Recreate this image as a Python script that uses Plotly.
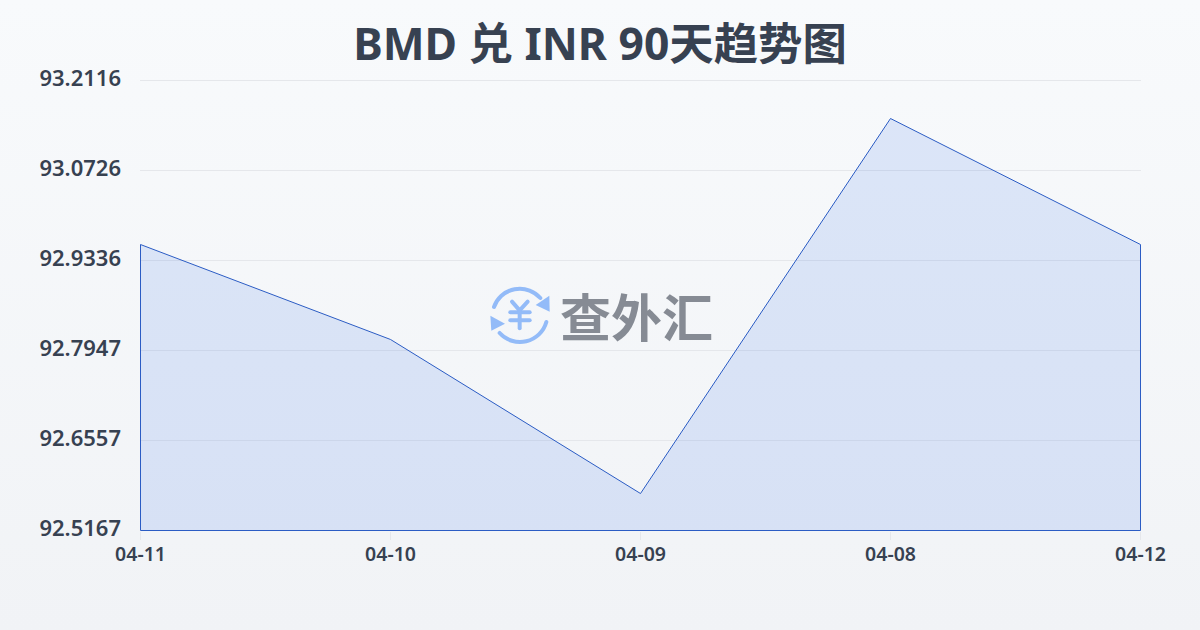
import base64
import plotly.graph_objects as go

title = "BMD 兑 INR 90天趋势图"
dates = ["04-11", "04-10", "04-09", "04-08", "04-12"]
rates = [92.9583, 92.8117, 92.5738, 93.1529, 92.9583]
y_ticks = [92.5167, 92.6557, 92.7947, 92.9336, 93.0726, 93.2116]
y_min, y_max = y_ticks[0], y_ticks[-1]

INK = "#374151"
L, R, T, B = 140, 59, 80, 99
W, H = 1200, 630
PW, PH = W - L - R, H - T - B
# half a pixel of padding so the 1px lines sit crisply on the pixel grid
pad_x = 0.5 * (len(dates) - 1) / (PW - 1)
pad_y = 0.5 * (y_max - y_min) / (PH - 1)

def uri(svg):
    return "data:image/svg+xml;base64," + base64.b64encode(svg.encode()).decode()

bg = f'''<svg xmlns="http://www.w3.org/2000/svg" width="{W}" height="{H}" preserveAspectRatio="none">
<defs><linearGradient id="g" x1="0" y1="0" x2="0" y2="1"><stop offset="0" stop-color="#f8fafc"/><stop offset="1" stop-color="#f1f3f6"/></linearGradient></defs>
<rect width="{W}" height="{H}" fill="url(#g)"/></svg>'''

icon = '''<svg xmlns="http://www.w3.org/2000/svg" viewBox="55 40 195 190" width="195" height="190">
<g fill="none" stroke="#93bbf8" stroke-width="12" stroke-linecap="round" stroke-linejoin="round">
<path d="M73 112 A82 82 0 0 1 212 85"/>
<path d="M230 157 A82 82 0 0 1 90 190"/>
<g stroke-width="12"><path d="M127 96 L150 122 L174 96"/><path d="M122 128 H180"/><path d="M122 152 H180"/><path d="M150 122 V176"/></g>
</g>
<path d="M239 78 L240 126 L198 106 Z" fill="#93bbf8"/>
<path d="M62 138 L106 162 L65 183 Z" fill="#93bbf8"/>
</svg>'''

def px(x): return (x - L) / PW
def py(y): return (H - B - y) / PH

fig = go.Figure()
fig.add_trace(go.Scatter(
    x=dates + [dates[-1], dates[0], dates[0]],
    y=rates + [y_min, y_min, rates[0]],
    mode="lines", fill="toself", cliponaxis=False,
    fillcolor="rgba(37,99,235,0.13)",
    line=dict(color="#2b5cc4", width=1),
    hoverinfo="skip", showlegend=False,
))

fig.update_layout(
    width=W, height=H,
    margin=dict(l=L, r=R, t=T, b=B, autoexpand=False),
    paper_bgcolor="#f5f7fa", plot_bgcolor="rgba(0,0,0,0)",
    font=dict(family="'Noto Sans', 'Noto Sans CJK SC', sans-serif", color=INK),
    title=dict(text=f"<b>{title}</b>", x=0.5, xref="container", xanchor="center",
               y=1 - 44 / H, yref="container", yanchor="middle",
               font=dict(size=44.4, color=INK)),
    xaxis=dict(type="category", categoryorder="array", categoryarray=dates,
               range=[-pad_x, len(dates) - 1 + pad_x], showgrid=False, zeroline=False,
               showline=False, ticks="outside", ticklen=8, tickwidth=1,
               tickcolor="#e5e7eb", ticklabelstandoff=-2,
               tickfont=dict(size=19.5, color=INK, weight=600)),
    yaxis=dict(range=[y_min - pad_y, y_max + pad_y], tickmode="array", tickvals=y_ticks,
               ticktext=[f"{v:.4f}" for v in y_ticks], showgrid=True,
               gridcolor="#e5e7eb", gridwidth=1, zeroline=False, showline=False,
               ticks="", ticklabelstandoff=18, ticklabelshift=-2,
               tickfont=dict(size=22, color=INK, weight=600)),
    shapes=[dict(type="line", xref="paper", yref="y", x0=0, x1=1, y0=y_max, y1=y_max,
                 line=dict(color="#e5e7eb", width=1), layer="below")],
    images=[
        dict(source=uri(bg), xref="paper", yref="paper", x=px(0), y=py(0),
             sizex=W / PW, sizey=H / PH, xanchor="left", yanchor="top",
             sizing="stretch", layer="below"),
        dict(source=uri(icon), xref="paper", yref="paper", x=px(488), y=py(283),
             sizex=65 / PW, sizey=63.3 / PH, xanchor="left", yanchor="top",
             sizing="stretch", layer="above"),
    ],
    annotations=[dict(text="<b>查外汇</b>", xref="paper", yref="paper",
                      x=px(636), y=py(315), xanchor="center", yanchor="middle",
                      showarrow=False,
                      font=dict(size=51, color="#868b94",
                                family="'Noto Sans CJK SC', sans-serif"))],
)
fig.write_html("out.html", config=dict(displayModeBar=False),
               post_script="document.body.style.margin='0';document.documentElement.style.overflow='hidden';")
